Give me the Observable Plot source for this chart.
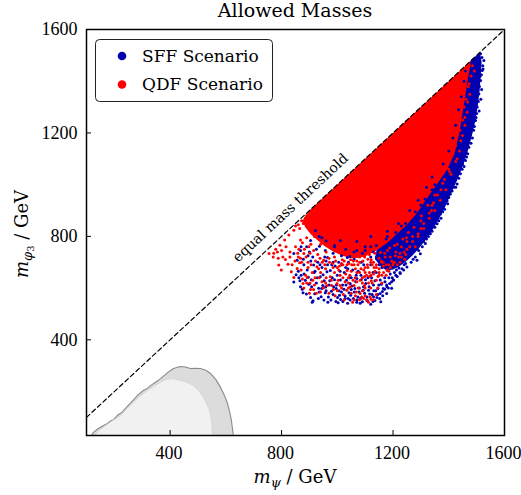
<!DOCTYPE html>
<html><head><meta charset="utf-8">
<script src="https://cdn.jsdelivr.net/npm/d3@7"></script>
<script src="https://cdn.jsdelivr.net/npm/@observablehq/plot@0.6"></script>
<style>body{margin:0;background:#fff}</style>
</head><body><div id="chart"></div>
<script>
const title = "Allowed Masses";
const seriesNames = ["SFF Scenario", "QDF Scenario"];
const seriesColors = ["#0000b0", "#ff0000"];
const xTicks = [400, 800, 1200, 1600];
const yTicks = [400, 800, 1200, 1600];
const xDomain = [100, 1600];
const yDomain = [30, 1600];
const diagonal = [100, 1600];
const thresholdLabel = "equal mass threshold";

// excluded regions (bottom left), [m_psi, m_phi3]
const outerContour = [[118,30],[125,42],[140,55],[161,69],[172,74],[185,85],[198,92],[211,108],[228,120],[240,135],[262,160],[283,185],[305,205],[318,212],[330,223],[350,238],[366,250],[390,272],[412,289],[437,297],[455,295],[473,289],[490,290],[509,289],[528,282],[545,270],[565,245],[581,216],[595,185],[606,154],[614,120],[620,88],[624,55],[627,30]];
const innerContour = [[130,30],[140,45],[160,62],[190,85],[220,105],[250,140],[290,180],[320,205],[345,222],[366,236],[385,246],[401,250],[420,248],[437,243],[460,236],[484,223],[505,200],[520,177],[535,145],[545,115],[550,75],[552,30]];

// dense envelopes of the two scans
const sffBand = [[1512,1512],[1518,1472],[1515,1425],[1511,1365],[1504,1305],[1495,1245],[1482,1185],[1467,1125],[1448,1065],[1428,1012],[1406,962],[1386,912],[1364,866],[1342,826],[1316,786],[1292,752],[1268,724],[1245,702],[1222,684],[1200,672],[1178,668],[1160,680],[1135,712],[1150,800],[1300,950],[1460,1460]];
const qdfCore = [[900,900],[1478,1478],[1478,1462],[1470,1420],[1460,1350],[1450,1280],[1438,1200],[1420,1120],[1395,1060],[1360,1005],[1320,945],[1286,890],[1250,845],[1215,810],[1180,775],[1140,745],[1100,722],[1060,714],[1020,724],[985,742],[955,762],[928,786],[905,808],[885,835],[875,860]];

// individual scan points
const sffPoints = [[844,624],[868,605],[877,582],[904,564],[913,551],[933,599],[957,582],[977,554],[1001,564],[1028,569],[1037,541],[1070,554],[1088,566],[1108,551],[1120,538],[1142,564],[1156,547],[1177,579],[1195,599],[1201,631],[892,670],[915,689],[939,644],[963,663],[987,605],[1011,631],[1046,618],[1070,637],[1094,605],[1130,612],[1154,631],[1177,612],[844,734],[856,708],[870,650],[885,630],[898,615],[925,620],[948,610],[960,590],[985,575],[995,548],[1015,585],[1020,548],[1050,595],[1058,560],[1078,585],[1098,580],[1112,592],[1125,575],[1138,590],[1165,598],[1185,640],[1210,650],[1225,660],[1240,690],[1000,650],[1025,660],[1055,670],[1085,650],[1110,640],[1140,660],[1160,680],[1190,700],[1210,710],[930,700],[955,720],[980,690],[1005,700],[1040,700],[1120,690],[870,760],[900,740],[925,750],[1060,740],[1100,760],[1140,720],[1170,750],
[904,784],[868,745],[965,718],[922,823],[1011,784],[1036,718],[975,668],[890,760],[945,795],[990,760],[1070,780],[1120,800],[1180,820],[1220,850],[1260,900],[1290,940],[1320,990],[1340,1030],[1380,1080],[1400,1130],[1415,1180],[1425,1230],[1435,1290],[1445,1340],[1455,1400],[1460,1440],
[1514,1506],[1526,1480],[1520,1441],[1514,1403],[1508,1351],[1502,1300],[1496,1248],[1478,1197],[1472,1145],[1460,1093],[1442,1042],[1430,1003],[1418,990],[1406,964],[1394,938],[1370,887],[1358,849],[1334,810],[1316,772],[1298,733],[1286,708],[1250,682],[1226,656],[1202,631],[1178,605],[1154,579],[1130,567],[1106,554],[1082,541],[1046,554],[1028,560],[1522,1460],[1517,1425],[1510,1380],[1515,1330],[1500,1275],[1492,1225],[1485,1180],[1468,1120],[1455,1070],[1448,1060],[1425,990],[1400,950],[1385,905],[1372,870],[1350,835],[1340,820],[1320,790],[1305,760],[1280,720],[1265,700],[1238,670],[1215,645],
[1519,1492],[1523,1447],[1512,1418],[1518,1368],[1506,1322],[1509,1285],[1498,1260],[1489,1210],[1480,1160],[1464,1107],[1450,1080],[1436,1025],[1412,975],[1396,926],[1378,895],[1364,860],[1345,845],[1327,800],[1310,780],[1292,745],[1272,712],[1245,695],[1232,675],[1195,625],[1170,596],[1145,575],
[862,640],[881,655],[907,632],[919,578],[942,567],[953,628],[971,612],[982,640],[996,598],[1008,572],[1019,612],[1033,630],[1042,582],[1063,598],[1074,566],[1086,632],[1102,618],[1116,577],[1128,548],[1135,628],[1149,612],[1162,587],[1170,640],[1188,618],[1205,660],[1221,678],[1180,668],[1150,690],[1128,660],[1095,690],[1075,665],[1050,640],[1030,680],[1010,665],[985,700],[965,690],[945,680],[920,665],[905,705],[880,690],[860,665],[1070,545],[1090,547],[1135,552],[1163,570],[1048,572],[1003,543],[968,566],[935,585],[910,545],[952,554],[1060,712],[1090,735],[1130,740],[1200,760],[1240,780],[1190,740],
[852,652],[866,628],[874,596],[889,577],[896,642],[908,605],[917,660],[928,640],[932,560],[944,598],[949,652],[958,604],[966,545],[973,628],[979,588],[990,632],[997,612],[1006,590],[1012,556],[1024,596],[1031,612],[1039,560],[1044,640],[1052,608],[1061,585],[1066,625],[1079,600],[1083,560],[1093,592],[1101,632],[1107,566],[1114,605],[1123,640],[1131,590],[1146,598],[1152,560],[1158,615],[1171,625],[1183,600],[1190,655],[1197,640],[1212,670],[1068,650],[1038,675],[1016,690],[992,685],[960,705],[938,690],[912,720],[895,725],[878,712],[1120,720],[1086,700],[1045,722],[1015,725],[985,735],[957,745],[936,762],
[1100,745],[1140,765],[1175,790],[1210,815],[1245,850],[1280,895],[1315,945],[1350,1000],[1030,750],[990,765],[960,782],[935,800],[1180,800],[1120,760],[1070,745],[1230,840],[1300,920],[1340,980]];

const qdfPoints = [[755,734],[779,750],[794,766],[811,786],[826,805],[844,824],[790,689],[799,670],[814,711],[823,692],[835,663],[844,641],[856,676],[865,698],[877,618],[892,641],[904,595],[918,612],[880,734],[898,760],[868,786],[927,683],[951,708],[975,644],[999,618],[1034,592],[1082,579],[1118,566],[1106,554],[770,720],[785,740],[805,720],[830,740],[850,760],[860,720],[895,700],[910,660],[940,660],[960,640],[990,660],[1020,640],[1045,650],[1060,610],[1090,620],[1100,600],[1125,620],[1145,600],[1160,620],[1175,650],[1100,680],[1060,690],[1020,690],[990,720],[960,740],[930,730],[905,770],[1080,720],[1130,700],[1165,700],[1190,680],[1050,580],[1000,590],[950,600],[925,580],[1065,570],[1095,560],[1112,545],
[850,840],[860,845],[872,860],[885,870],[878,850],[890,880],[865,830],[895,860],
[1480,1420],[1470,1380],[1462,1330],[1455,1300],[1450,1250],[1440,1210],[1425,1150],[1415,1120],[1400,1060],[1385,1020],[1360,960],[1345,930],[1330,890],[1310,850],[1290,810],[1270,780],[1250,750],[1230,720],[1205,700],[1485,1460],[1492,1440],[1475,1350],[1466,1280],[1458,1230],[1443,1170],[1430,1100],[1408,1040],[1372,980],[1338,900],[1300,830],[1280,760],[1245,730],[1215,690],
[872,700],[888,720],[902,735],[915,745],[938,715],[955,690],[972,700],[985,680],[1005,670],[1018,710],[1035,668],[1052,690],[1070,660],[1085,675],[1098,645],[1115,660],[1132,680],[1150,650],[1178,670],[1200,690],[1225,700],[1242,712],[862,750],[875,775],[890,795],[918,800],[940,770],[965,765],[1000,745],[1030,735],[1070,705],[1110,712],[1155,738],[1180,745],[1215,770],[1248,795],[1275,835],[1302,880],[1325,920],[1350,960],[1378,1005],[1403,1050],[1425,1090],[1438,1130],[1449,1190],[1458,1260],[1468,1320],[1473,1390],[1015,600],[1040,620],[1075,600],[1090,590],[1120,600],[1140,630],[980,610],[958,620],[935,640],[912,630],[890,620],[870,670],[880,600],[900,580],[1100,570],[1130,555],[1080,555],[1055,545],
[772,735],[788,715],[800,745],[816,760],[830,720],[838,690],[848,705],[858,735],[868,715],[882,750],[895,680],[906,690],[922,705],[933,675],[946,700],[958,675],[970,715],[983,695],[994,705],[1008,685],[1025,705],[1042,695],[1058,705],[1074,690],[1092,705],[1108,690],[1122,710],[1140,690],[1158,705],[1172,720],[886,650],[902,620],[920,640],[945,625],[963,610],[986,595],[1010,610],[1028,625],[1046,605],[1064,640],[1082,630],[1105,650],[1122,628],[1146,645],[1166,660],[1185,665],[875,635],[915,595],[940,585],[970,580],[992,570],[1022,575],[1040,600],[1068,585],[1098,610],[1112,620],[1088,565],[1121,557],[1140,575],[1060,555],[1025,555],
[1100,660],[1120,650],[1150,660],[1180,670],[1200,700],[1220,720],[1240,740],[1260,760],[1290,800],[1310,830],[1330,870],[1350,900],[1370,940],[1390,980],[1160,700],[1190,720],[1230,760],[1270,800],[1300,860],[1340,920],[1120,700],[1140,680],[1175,690],[1210,740],[1250,780],
[1010,650],[1030,655],[1050,665],[1065,675],[1080,660],[1095,670],[1110,680],[1125,690],[1135,665],[1150,675],[1165,685],[1185,690],[1195,705],[1208,725],[1225,735],[1000,680],[1015,695],[1035,690],[1048,710],[1062,725],[1080,700],[1098,720],[1115,730],[1135,735],[1150,715],[1170,735],[1188,755],[1205,765],[1235,790],[1255,815],[1090,640],[1070,625],[1040,640],[1115,645],[1130,655],[1057,630],[1003,630],[978,630],[1160,650]];

const X = d => d[0], Y = d => d[1];
const F = "DejaVu Serif";

const plot = Plot.plot({
  width: 521, height: 495,
  marginLeft: 86, marginRight: 17, marginTop: 29, marginBottom: 60,
  style: {fontFamily: F, fontSize: "16px", background: "white", color: "black"},
  x: {domain: xDomain},
  y: {domain: yDomain},
  marks: [
    Plot.line(outerContour, {x: X, y: Y, fill: "#dcdcdc", stroke: "#8a8a8a", strokeWidth: 1.1, curve: "linear-closed", clip: true}),
    Plot.line(innerContour, {x: X, y: Y, fill: "#f1f1f1", stroke: "#d2d2d2", strokeWidth: 0.8, curve: "linear-closed", clip: true}),
    Plot.line(sffBand, {x: X, y: Y, fill: seriesColors[0], stroke: "none", curve: "linear-closed"}),
    Plot.line(qdfCore, {x: X, y: Y, fill: seriesColors[1], stroke: "none", curve: "linear-closed"}),
    Plot.dot(sffPoints, {x: X, y: Y, r: 1.5, fill: seriesColors[0], stroke: "none"}),
    Plot.dot(qdfPoints, {x: X, y: Y, r: 1.5, fill: seriesColors[1], stroke: "none"}),
    Plot.line(diagonal, {x: d => d, y: d => d, stroke: "black", strokeWidth: 1.2, strokeDasharray: "4.5,3", clip: true}),
    Plot.text([thresholdLabel], {x: 868, y: 868, dx: -10, dy: -11, rotate: -43, fontSize: 14, textAnchor: "middle"}),
    Plot.ruleX(xTicks, {x: d => d, insetTop: 401, stroke: "black", strokeWidth: 1}),
    Plot.ruleY(yTicks, {y: d => d, insetRight: 413, stroke: "black", strokeWidth: 1}),
    Plot.axisX(xTicks, {tickSize: 0, tickPadding: 11, dx: -1, label: null, tickFormat: d => String(d), fontFamily: "Liberation Serif", fontSize: 18}),
    Plot.axisY(yTicks, {tickSize: 0, tickPadding: 9, label: null, tickFormat: d => String(d), fontFamily: "Liberation Serif", fontSize: 18}),
    Plot.frame({stroke: "black", strokeWidth: 1.5})
  ]
});

document.getElementById("chart").appendChild(plot);
const svg = d3.select(plot);

svg.append("text").attr("x", 295).attr("y", 17).attr("text-anchor", "middle")
  .attr("font-family", F).attr("font-size", 19).attr("fill", "black").text(title);

const xl = svg.append("text").attr("x", 295).attr("y", 483).attr("text-anchor", "middle")
  .attr("font-family", F).attr("font-size", 18).attr("fill", "black");
xl.append("tspan").attr("font-style", "italic").text("m");
xl.append("tspan").attr("font-style", "italic").attr("font-size", 13).attr("dy", 4).text("ψ");
xl.append("tspan").attr("dy", -4).text(" / GeV");

const yl = svg.append("text").attr("transform", "translate(28,234) rotate(-90)").attr("text-anchor", "middle")
  .attr("font-family", F).attr("font-size", 18).attr("fill", "black");
yl.append("tspan").attr("font-style", "italic").text("m");
yl.append("tspan").attr("font-style", "italic").attr("font-size", 13).attr("dy", 4).text("φ");
yl.append("tspan").attr("font-size", 10).attr("dy", 2).text("3");
yl.append("tspan").attr("dy", -6).text(" / GeV");

const lg = svg.append("g");
lg.append("rect").attr("x", 95.5).attr("y", 39.5).attr("width", 177).attr("height", 62).attr("rx", 4)
  .attr("fill", "white").attr("stroke", "#222").attr("stroke-width", 1);
seriesNames.forEach((name, i) => {
  const cy = 56 + i * 28.5;
  lg.append("circle").attr("cx", 122).attr("cy", cy).attr("r", 4.3).attr("fill", seriesColors[i]);
  lg.append("text").attr("x", 142).attr("y", cy).attr("dy", "0.35em").attr("text-anchor", "start")
    .attr("font-family", F).attr("font-size", 17).attr("fill", "black").text(name);
});
</script>
</body></html>
